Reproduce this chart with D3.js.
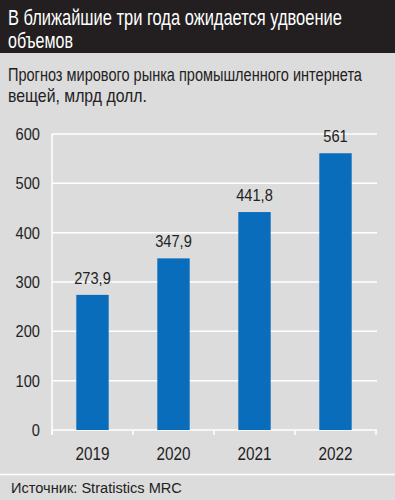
<!DOCTYPE html>
<html lang="ru">
<head>
  <meta charset="UTF-8" />
  <title>Промышленный интернет вещей</title>
  <script src="https://d3js.org/d3.v7.min.js"></script>
  <style>
    body {
      margin: 0;
      background: #dcdcdc;
    }
    svg text {
      font-family: "Liberation Sans", Arial, sans-serif;
      fill: #222;
    }
  </style>
</head>
<body>
  <svg width="395" height="500" id="chart"></svg>

  <script>
    const years = ["2019", "2020", "2021", "2022"];
    const values = [273.9, 347.9, 441.8, 561];
    const valueLabels = ["273,9", "347,9", "441,8", "561"];
    const yTicks = [0, 100, 200, 300, 400, 500, 600];

    const titleLines = ["В ближайшие три года ожидается удвоение", "объемов"];
    const subtitleLines = ["Прогноз мирового рынка промышленного интернета", "вещей, млрд долл."];
    const source = "Источник: Stratistics MRC";

    const svg = d3.select("#chart");
    const width = 395;

    // в оригинале узкий шрифт — сжимаем текст по горизонтали
    // pos(d, i) -> [x, y]; k — коэффициент сжатия или функция нужной ширины
    function place(sel, pos, k) {
      sel.each(function (d, i) {
        const [px, py] = pos(d, i);
        const len = this.getComputedTextLength();
        const s = typeof k === "function" ? k(d, i) / len : k;
        d3.select(this).attr("x", 0).attr("y", 0)
          .attr("transform", `translate(${px},${py}) scale(${s},1)`);
      });
    }

    // фон
    svg.append("rect").attr("width", width).attr("height", 500).attr("fill", "#dcdcdc");
    svg.append("rect").attr("width", width).attr("height", 53).attr("fill", "#231f20");
    svg.append("line")
      .attr("x1", 0).attr("x2", width)
      .attr("y1", 474.5).attr("y2", 474.5)
      .attr("stroke", "#fff").attr("stroke-width", 1.5);

    // заголовок
    const titleW = [334, 65];
    svg.selectAll(".title").data(titleLines).enter().append("text")
      .style("font-size", "22.5px").style("fill", "#fff")
      .text(d => d)
      .call(place, (d, i) => [8, 25 + i * 22.5], (d, i) => titleW[i]);

    const subW = [354, 139];
    svg.selectAll(".subtitle").data(subtitleLines).enter().append("text")
      .style("font-size", "18px")
      .text(d => d)
      .call(place, (d, i) => [8, 81 + i * 21], (d, i) => subW[i]);

    const x = d3.scaleBand().domain(years).range([52, 376]).paddingInner(0.6).paddingOuter(0.3);
    const y = d3.scaleLinear().domain([0, 600]).range([430, 134]);

    // сетка
    svg.append("g").selectAll("line").data(yTicks).enter().append("line")
      .attr("x1", 52).attr("x2", 377)
      .attr("y1", d => y(d)).attr("y2", d => y(d))
      .attr("stroke", "#fff").attr("stroke-width", 1.5);

    svg.append("line")
      .attr("x1", 52).attr("x2", 52).attr("y1", y(600)).attr("y2", y(0) + 5)
      .attr("stroke", "#fff").attr("stroke-width", 1.5);

    // засечки на границах категорий
    const edge = i => 52 + i * x.step();
    svg.append("g").selectAll("line").data(d3.range(years.length + 1)).enter().append("line")
      .attr("x1", edge).attr("x2", edge)
      .attr("y1", y(0)).attr("y2", y(0) + 5)
      .attr("stroke", "#fff").attr("stroke-width", 1.5);

    // подписи оси Y
    svg.append("g").selectAll("text").data(yTicks).enter().append("text")
      .attr("text-anchor", "end")
      .style("font-size", "17px")
      .text(d => d)
      .call(place, d => [40, y(d) + 6], 0.86);

    // столбцы
    svg.append("g").selectAll("rect").data(values).enter().append("rect")
      .attr("x", (d, i) => x(years[i]))
      .attr("width", x.bandwidth())
      .attr("y", d => y(d))
      .attr("height", d => y(0) - y(d))
      .attr("fill", "#0a6dbc");

    svg.append("g").selectAll("text").data(values).enter().append("text")
      .attr("text-anchor", "middle")
      .style("font-size", "17px")
      .text((d, i) => valueLabels[i])
      .call(place, (d, i) => [x(years[i]) + x.bandwidth() / 2, y(d) - 11], 0.86);

    // подписи оси X
    svg.append("g").selectAll("text").data(years).enter().append("text")
      .attr("text-anchor", "middle")
      .style("font-size", "18px")
      .text(d => d)
      .call(place, d => [x(d) + x.bandwidth() / 2, 460], 0.85);

    svg.append("text")
      .style("font-size", "15.5px")
      .text(source)
      .call(place, () => [11, 493], () => 171);
  </script>
</body>
</html>
